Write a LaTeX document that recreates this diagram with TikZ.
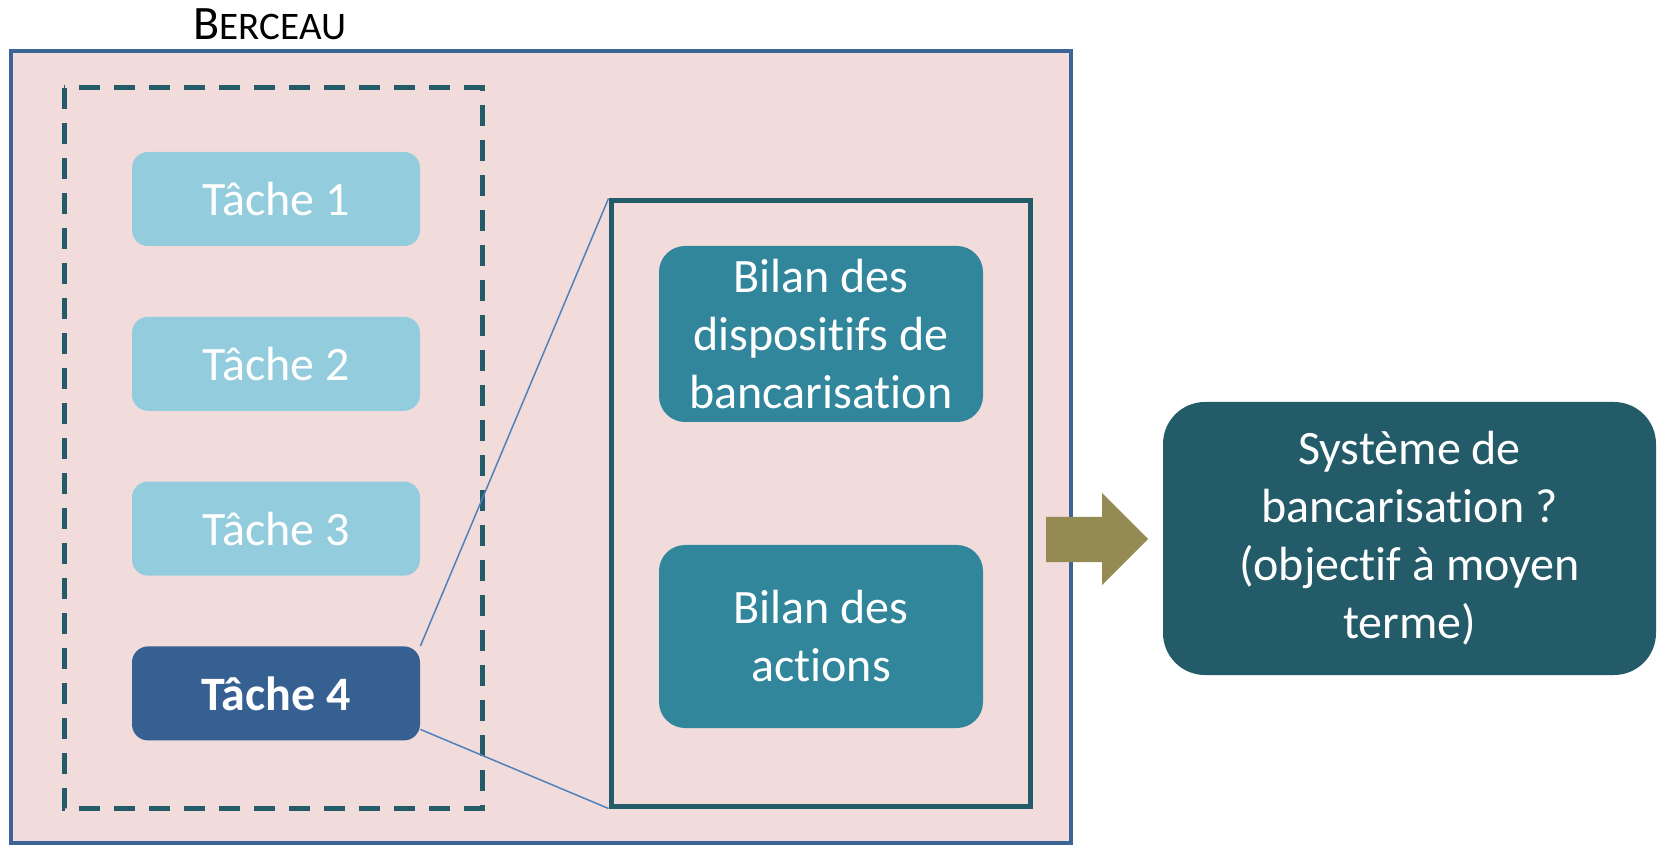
\documentclass[tikz,border=0pt]{standalone}
\usepackage{fontspec}
\setmainfont{Carlito}[Ligatures=NoCommon]
\usetikzlibrary{positioning}
\definecolor{FondRose}{HTML}{F2DCDB}
\definecolor{BleuCadre}{HTML}{3D6496}
\definecolor{BleuCanard}{HTML}{235B69}
\definecolor{BleuClair}{HTML}{93CDDD}
\definecolor{BleuTache}{HTML}{366092}
\definecolor{BleuBilan}{HTML}{31869C}
\definecolor{BleuLien}{HTML}{4F81BD}
\definecolor{Olive}{HTML}{948A54}

\begin{document}
\begin{tikzpicture}[x=0.5pt, y=-0.5pt,
    tache/.style={fill=BleuClair, rounded corners=8pt, minimum width=144pt, minimum height=47pt, text=white, font=\fontsize{24}{29}\selectfont},
    bilan/.style={fill=BleuBilan, rounded corners=13pt, minimum width=162pt, text=white, align=center, font=\fontsize{24}{29}\selectfont}]
    \useasboundingbox (0,0) rectangle (1662,845);

    % Cadre Berceau
    \draw[line width=2.25pt, BleuCadre, fill=FondRose] (11,51) rectangle (1071,843);
    \node[anchor=base, inner sep=0pt, font=\fontsize{24}{29}\selectfont] (titre) at (270,40) {B{\fontsize{19.5}{23}\selectfont ERCEAU}};

    % Cadre pointillé
    \draw[line width=2.5pt, dash pattern=on 10.5pt off 7pt, BleuCanard] (64,88) rectangle (482,808);

    % Tâches
    \node[tache] (t1) at (276,199) {Tâche 1};
    \node[tache, below=35pt of t1] (t2) {Tâche 2};
    \node[tache, below=35pt of t2] (t3) {Tâche 3};
    \node[tache, fill=BleuTache, below=35pt of t3, font=\fontsize{24}{29}\selectfont\bfseries] (t4) {Tâche 4};

    % Détail de la tâche 4
    \node[draw=BleuCanard, line width=2.5pt, fill=FondRose, minimum width=209.5pt, minimum height=302.5pt] (detail) at (820.5,503.5) {};
    \node[bilan, minimum height=88pt] (b1) at (821,334) {Bilan des\\dispositifs de\\bancarisation};
    \node[bilan, minimum height=91.5pt] (b2) at (821,636.5) {Bilan des\\actions};

    % Liens de zoom
    \draw[BleuLien, line width=0.75pt] (t4.north east) -- (detail.north west);
    \draw[BleuLien, line width=0.75pt] (t4.-14) -- (detail.south west);

    % Objectif
    \node[fill=BleuCanard, rounded corners=21pt, minimum width=246.5pt, minimum height=136.5pt, text=white, align=center, font=\fontsize{24}{29}\selectfont] (sys) at (1409.5,538.5) {Système de\\bancarisation ?\\(objectif à moyen\\terme)};

    % Flèche
    \fill[Olive] (1046,517) -- (1102,517) -- (1102,493) -- (1148,539) -- (1102,585) -- (1102,562) -- (1046,562) -- cycle;
\end{tikzpicture}
\end{document}
